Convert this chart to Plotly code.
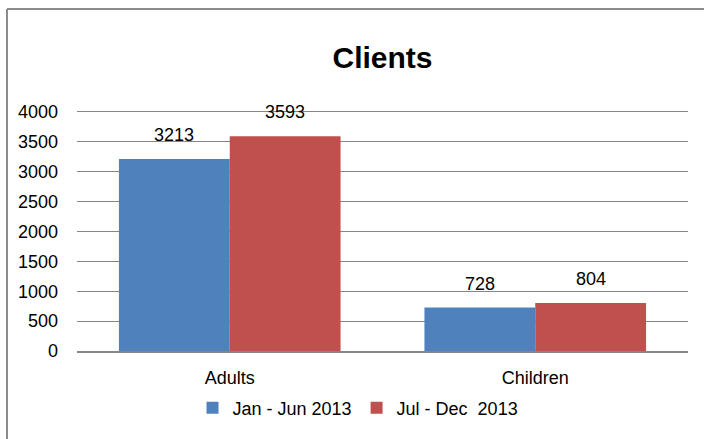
import plotly.graph_objects as go

categories = ["Adults", "Children"]
series_names = ["Jan - Jun 2013", "Jul - Dec  2013"]
jan_jun = [3213, 728]
jul_dec = [3593, 804]
y_ticks = [0, 500, 1000, 1500, 2000, 2500, 3000, 3500, 4000]

colors = ["#4F81BD", "#C0504D"]
FONT = "Liberation Sans, Arial, sans-serif"

W, H = 704, 439
Y_TOP = 4050
PL, PR = 77, 688                        # plot left/right px
PB = 351                                # plot bottom (value 0)
PX_PER = (351 - 112) / 4000             # px per unit
PT = round(PB - Y_TOP * PX_PER)         # plot top
PW, PH = PR - PL, PB - PT

fig = go.Figure()
for name, vals, col in zip(series_names, [jan_jun, jul_dec], colors):
    fig.add_trace(go.Bar(x=categories, y=vals, name=name,
                         marker=dict(color=col, line=dict(width=0))))

# data labels
annotations = []
for vals, shift in [(jan_jun, -55.5), (jul_dec, 55.5)]:
    for c, v in zip(categories, vals):
        annotations.append(dict(x=c, y=v, text=str(v), showarrow=False,
                                xshift=shift, yshift=24, yanchor="middle",
                                font=dict(size=18, color="#000000", family=FONT)))

fig.update_layout(
    width=W, height=H,
    margin=dict(l=PL, r=W - PR, t=PT, b=H - PB),
    paper_bgcolor="white", plot_bgcolor="white",
    font=dict(family=FONT, size=18, color="#000000"),
    barmode="group", bargap=0.2745, bargroupgap=0,
    title=dict(text="<b>Clients</b>", x=0.5, xref="paper", xanchor="center",
               y=1 - 57 / H, yanchor="middle",
               font=dict(size=30, family=FONT, color="#000000")),
    xaxis=dict(showline=True, linecolor="#868686", linewidth=1.5,
               ticks="", ticklabelstandoff=10, showgrid=False,
               tickfont=dict(size=18)),
    yaxis=dict(range=[0, Y_TOP], tickvals=y_ticks, showgrid=True,
               gridcolor="#868686", gridwidth=1.2, zeroline=False,
               showline=False, ticks="", ticklabelstandoff=18,
               tickfont=dict(size=18)),
    legend=dict(orientation="h", x=(358 - PL) / PW, xanchor="center",
                y=(PB - 408) / PH, yanchor="middle",
                font=dict(size=18), itemwidth=30, tracegroupgap=0),
    annotations=annotations,
    showlegend=True,
)

# outer chart border: only left and top edges are inside the window
bx = (7 - PL) / PW
by = (PB - 9) / PH
fig.add_shape(type="line", xref="paper", yref="paper",
              x0=bx, x1=bx, y0=(PB - 460) / PH, y1=by,
              line=dict(color="#8C8C8C", width=2), layer="below")
fig.add_shape(type="line", xref="paper", yref="paper",
              x0=bx, x1=(760 - PL) / PW, y0=by, y1=by,
              line=dict(color="#8C8C8C", width=2), layer="below")

fig.write_html("out.html",
               config={"displayModeBar": False},
               post_script="document.body.style.margin='0';"
                           "document.body.style.overflow='hidden';")
